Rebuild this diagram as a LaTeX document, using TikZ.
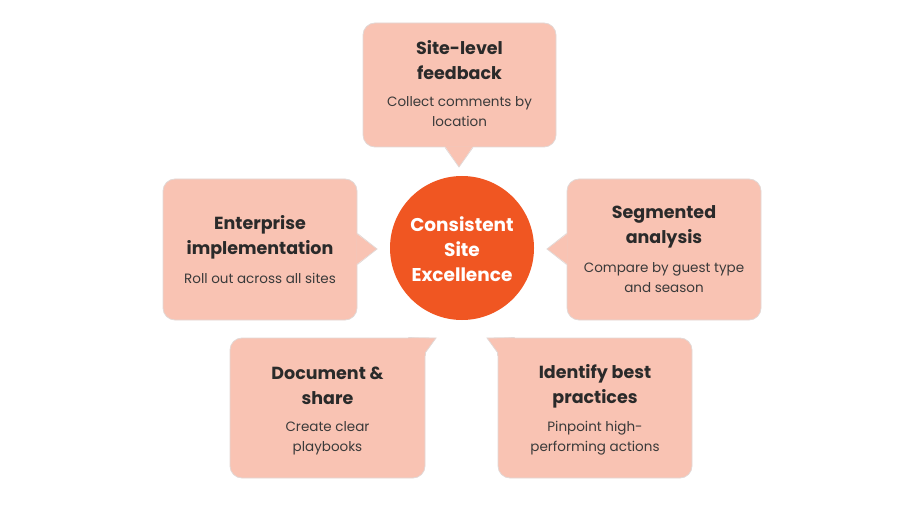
\documentclass[tikz,border=0pt]{standalone}
\usepackage{fontspec}
\setmainfont{Poppins}
\usetikzlibrary{calc}
\definecolor{boxc}{HTML}{F9C3B3}
\definecolor{bordc}{HTML}{E2D8D5}
\definecolor{hubc}{HTML}{F05622}
\definecolor{ttlc}{HTML}{2A2A2A}
\definecolor{dscc}{HTML}{3A3A3A}
\tikzset{
  box/.style={draw=bordc, line width=0.8pt, fill=boxc, rounded corners=12pt,
    rectangle, inner sep=0pt},
  ptr/.style={fill=boxc, draw=none},
  ptrline/.style={draw=bordc, line width=0.8pt},
  ttl/.style={font=\fontsize{17.5}{25}\selectfont\bfseries, text=ttlc, align=center, inner sep=0pt},
  dsc/.style={font=\fontsize{13.5}{20}\selectfont, text=dscc, align=center, inner sep=0pt},
  hub/.style={circle, fill=hubc, minimum size=144pt, inner sep=0pt},
  hubtxt/.style={font=\fontsize{18.5}{25}\selectfont\bfseries, text=white, align=center, inner sep=0pt}
}
\begin{document}
\begin{tikzpicture}[x=1pt,y=-1pt]
\useasboundingbox (0,0) rectangle (901,510);
% boxes
\node[box, minimum width=193pt, minimum height=124pt] (tb) at (459.5,85) {};
\node[box, minimum width=194pt, minimum height=141pt] (lb) at (260,249.5) {};
\node[box, minimum width=194pt, minimum height=141pt] (rb) at (664,249.5) {};
\node[box, minimum width=195pt, minimum height=140pt] (blb) at (327.5,408) {};
\node[box, minimum width=194pt, minimum height=140pt] (brb) at (595,408) {};
% pointers
\coordinate (tt) at (459,167);
\coordinate (lt) at (377,249);
\coordinate (rt) at (547,249);
\coordinate (blt) at (436,338);
\coordinate (brt) at (487,338);
% top
\fill[ptr] ($(tb.south)+(-14.5,-1)$) -- (tt) -- ($(tb.south)+(13.5,-1)$) -- cycle;
\draw[ptrline] ($(tb.south)+(-14.5,0)$) -- (tt) -- ($(tb.south)+(13.5,0)$);
% left
\fill[ptr] ($(lb.east)+(-1,-16)$) -- (lt) -- ($(lb.east)+(-1,15)$) -- cycle;
\draw[ptrline] ($(lb.east)+(0,-16)$) -- (lt) -- ($(lb.east)+(0,15)$);
% right
\fill[ptr] ($(rb.west)+(1,-16)$) -- (rt) -- ($(rb.west)+(1,15)$) -- cycle;
\draw[ptrline] ($(rb.west)+(0,-16)$) -- (rt) -- ($(rb.west)+(0,15)$);
% bottom-left (top-right corner)
\fill[ptr] ($(blb.north east)+(-17,0)$) -- (blt) -- ($(blb.north east)+(0,15)$) -- ($(blb.north east)+(0,18)$) -- ($(blb.north east)+(-17,18)$) -- cycle;
\draw[ptrline] ($(blb.north east)+(-17,0)$) -- (blt) -- ($(blb.north east)+(0,15)$) -- ($(blb.north east)+(0,18)$);
% bottom-right (top-left corner)
\fill[ptr] ($(brb.north west)+(17,0)$) -- (brt) -- ($(brb.north west)+(0,15)$) -- ($(brb.north west)+(0,18)$) -- ($(brb.north west)+(17,18)$) -- cycle;
\draw[ptrline] ($(brb.north west)+(17,0)$) -- (brt) -- ($(brb.north west)+(0,15)$) -- ($(brb.north west)+(0,18)$);
% hub
\node[hub] (hub) at (462,248) {};
\node[hubtxt] (hubt) at (462,249) {Consistent\\Site\\Excellence};
% texts
\node[ttl] (tbt) at (459.5,60) {Site-level\\feedback};
\node[dsc] (tbd) at (459.5,111.5) {Collect comments by\\location};
\node[ttl] (lbt) at (260,237.5) {Enterprise\\implementation};
\node[dsc] (lbd) at (260,278) {Roll out across all sites};
\node[ttl] (rbt) at (664,227) {Segmented\\analysis};
\node[dsc] (rbd) at (664,277.5) {Compare by guest type\\and season};
\node[ttl] (blbt) at (327.5,386) {Document \&\\share};
\node[dsc] (blbd) at (327.5,438) {Create clear\\playbooks};
\node[ttl] (brbt) at (595,386) {Identify best\\practices};
\node[dsc] (brbd) at (595,438) {Pinpoint high-\\performing actions};
\end{tikzpicture}
\end{document}
